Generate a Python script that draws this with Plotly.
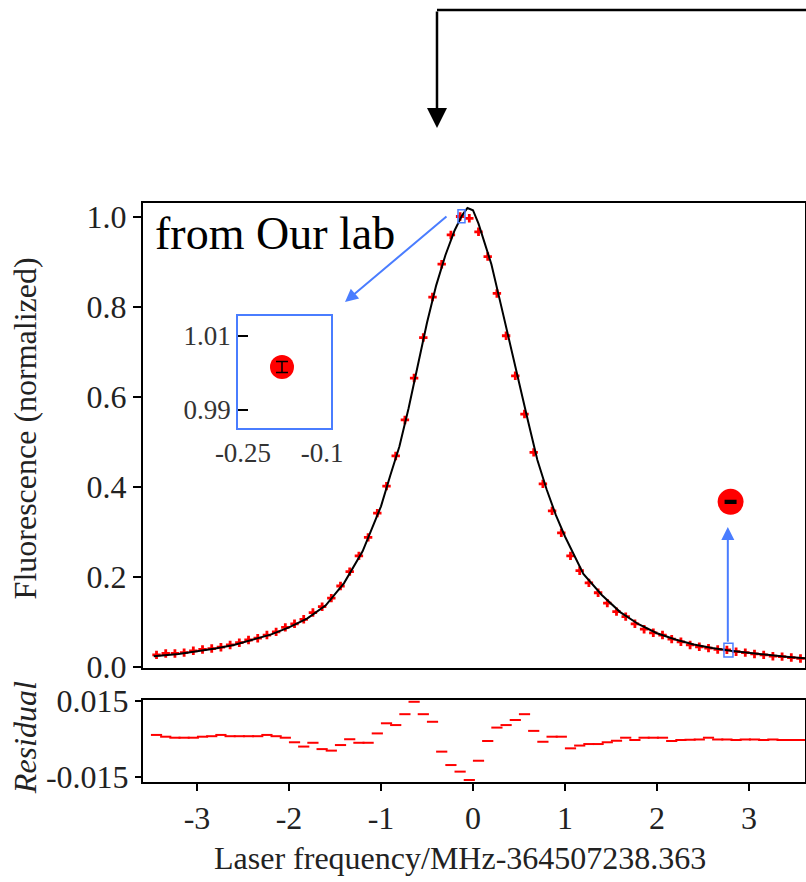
import plotly.graph_objects as go

# ---------------- data ----------------
freq = [-3.44, -3.34, -3.24, -3.14, -3.04, -2.94, -2.84, -2.74, -2.64, -2.54,
        -2.44, -2.34, -2.24, -2.14, -2.04, -1.94, -1.84, -1.74, -1.64, -1.54,
        -1.44, -1.34, -1.24, -1.14, -1.04, -0.94, -0.84, -0.74, -0.64, -0.54,
        -0.44, -0.34, -0.24, -0.14, -0.04, 0.06, 0.16, 0.26, 0.36, 0.46,
        0.56, 0.66, 0.76, 0.86, 0.96, 1.06, 1.16, 1.26, 1.36, 1.46,
        1.56, 1.66, 1.76, 1.86, 1.96, 2.06, 2.16, 2.26, 2.36, 2.46,
        2.56, 2.66, 2.76, 2.86, 2.96, 3.06, 3.16, 3.26, 3.36, 3.46, 3.56]

fluorescence = [0.027, 0.030, 0.030, 0.032, 0.036, 0.039, 0.041, 0.044, 0.049, 0.054,
                0.060, 0.064, 0.071, 0.078, 0.088, 0.096, 0.106, 0.121, 0.134, 0.153,
                0.180, 0.212, 0.247, 0.288, 0.342, 0.402, 0.469, 0.549, 0.642, 0.732,
                0.822, 0.895, 0.960, 1.001, 0.997, 0.967, 0.912, 0.830, 0.736, 0.647,
                0.562, 0.477, 0.407, 0.347, 0.298, 0.247, 0.214, 0.187, 0.165, 0.142,
                0.123, 0.112, 0.096, 0.084, 0.076, 0.071, 0.062, 0.056, 0.049, 0.045,
                0.042, 0.039, 0.038, 0.034, 0.032, 0.029, 0.027, 0.024, 0.023, 0.021, 0.019]

residual = [0.0016, 0.0009, 0.0005, 0.0005, 0.0005, 0.0009, 0.0011, 0.0016, 0.0011, 0.0011,
            0.0011, 0.0011, 0.0016, 0.0011, 0.0005, -0.0013, -0.0030, -0.0015, -0.0040, -0.0046,
            -0.0024, -0.0001, -0.0015, -0.0015, 0.0022, 0.0062, 0.0055, 0.0098, 0.0147, 0.0098,
            0.0068, -0.0050, -0.0103, -0.0129, -0.0162, -0.0086, -0.0008, 0.0045, 0.0055, 0.0075,
            0.0098, 0.0032, -0.0011, 0.0009, 0.0009, -0.0037, -0.0026, -0.0020, -0.0020, -0.0013,
            -0.0007, 0.0005, -0.0004, 0.0005, 0.0005, 0.0005, -0.0008, -0.0004, -0.0003, -0.0002,
            0.0005, -0.0002, -0.0002, -0.0004, -0.0002, -0.0002, -0.0004, -0.0002, -0.0004, -0.0004, -0.0004]

fit_freq = [-3.47, -3.2, -3.0, -2.8, -2.6, -2.4, -2.2, -2.0, -1.8, -1.6,
            -1.4, -1.2, -1.0, -0.9, -0.8, -0.7, -0.6, -0.5, -0.4, -0.3,
            -0.2, -0.12, -0.06, 0.0, 0.06, 0.12, 0.2, 0.3, 0.4, 0.5,
            0.6, 0.7, 0.8, 0.9, 1.0, 1.2, 1.4, 1.6, 1.8, 2.0,
            2.2, 2.4, 2.6, 2.8, 3.0, 3.2, 3.4, 3.62]
fit_fluorescence = [0.024, 0.029, 0.035, 0.041, 0.049, 0.060, 0.072, 0.088, 0.108, 0.137,
                    0.187, 0.257, 0.357, 0.425, 0.490, 0.575, 0.670, 0.765, 0.848, 0.915,
                    0.970, 1.003, 1.020, 1.015, 0.985, 0.945, 0.895, 0.808, 0.718, 0.635,
                    0.545, 0.460, 0.395, 0.338, 0.290, 0.207, 0.160, 0.122, 0.095, 0.075,
                    0.061, 0.050, 0.042, 0.036, 0.031, 0.027, 0.023, 0.019]

inset_x = [-0.176]
inset_y = [1.0016]
inset_err = [0.0015]

magnified_x = [2.80]
magnified_y = [0.367]
magnified_err = [0.0008]

x_tick_vals = [-3, -2, -1, 0, 1, 2, 3]
x_tick_text = ["-3", "-2", "-1", "0", "1", "2", "3"]
y_tick_vals = [0.0, 0.2, 0.4, 0.6, 0.8, 1.0]
y_tick_text = ["0.0", "0.2", "0.4", "0.6", "0.8", "1.0"]
res_tick_vals = [-0.015, 0.015]
res_tick_text = ["-0.015", "0.015"]
inset_x_ticks = [-0.25, -0.1]
inset_x_text = ["-0.25", "-0.1"]
inset_y_ticks = [0.99, 1.01]
inset_y_text = ["0.99", "1.01"]

# ---------------- figure ----------------
RED = "#ff0000"
BLUE = "#4a7dff"
FONT = "Liberation Serif"
TXT = "#222222"

fig = go.Figure()

fig.add_trace(go.Scatter(x=freq, y=fluorescence, mode="markers",
                         marker=dict(symbol="cross", size=7, color=RED),
                         xaxis="x", yaxis="y"))
fig.add_trace(go.Scatter(x=fit_freq, y=fit_fluorescence, mode="lines",
                         line=dict(color="black", width=2),
                         xaxis="x", yaxis="y"))
fig.add_trace(go.Scatter(x=magnified_x, y=magnified_y, mode="markers",
                         marker=dict(size=26, color=RED),
                         xaxis="x", yaxis="y"))
fig.add_trace(go.Scatter(x=magnified_x, y=magnified_y, mode="markers",
                         marker=dict(size=2, color="rgba(0,0,0,0)"),
                         error_y=dict(type="data", array=magnified_err, width=6,
                                      thickness=3.5, color="black"),
                         xaxis="x", yaxis="y"))
fig.add_trace(go.Scatter(x=freq, y=residual, mode="markers",
                         marker=dict(symbol="line-ew", size=8,
                                     line=dict(width=2, color=RED)),
                         xaxis="x2", yaxis="y2"))
fig.add_trace(go.Scatter(x=inset_x, y=inset_y, mode="markers",
                         marker=dict(size=24, color=RED),
                         xaxis="x3", yaxis="y3"))
fig.add_trace(go.Scatter(x=inset_x, y=inset_y, mode="markers",
                         marker=dict(size=2, color="rgba(0,0,0,0)"),
                         error_y=dict(type="data", array=inset_err, width=6,
                                      thickness=1.5, color="black"),
                         xaxis="x3", yaxis="y3"))

X_RANGE = [-3.587, 3.609]

fig.update_layout(
    template="none",
    width=806, height=882, autosize=False,
    margin=dict(l=143, r=1, t=203, b=100, pad=0, autoexpand=False),
    plot_bgcolor="white", paper_bgcolor="white",
    showlegend=False,
    font=dict(family=FONT, size=32, color=TXT),
    xaxis=dict(domain=[0, 1], range=X_RANGE, anchor="y", automargin=False,
               showticklabels=False, ticks="", showgrid=False, zeroline=False,
               showline=True, linecolor="black", linewidth=2, mirror=True),
    yaxis=dict(domain=[0.1969, 1], range=[-0.0022, 1.031], anchor="x", automargin=False,
               tickvals=y_tick_vals, ticktext=y_tick_text,
               ticks="outside", ticklen=8, tickwidth=2, tickcolor="black",
               showgrid=False, zeroline=False,
               showline=True, linecolor="black", linewidth=2, mirror=True),
    xaxis2=dict(domain=[0, 1], range=X_RANGE, anchor="y2", automargin=False,
                tickvals=x_tick_vals, ticktext=x_tick_text,
                ticks="outside", ticklen=7, tickwidth=2, tickcolor="black",
                showgrid=False, zeroline=False,
                showline=True, linecolor="black", linewidth=2, mirror=True),
    yaxis2=dict(domain=[0, 0.1416], range=[-0.0170, 0.0154], anchor="x2", automargin=False,
                tickvals=res_tick_vals, ticktext=res_tick_text,
                ticks="outside", ticklen=6, tickwidth=2, tickcolor="black",
                showgrid=False, zeroline=False,
                showline=True, linecolor="black", linewidth=2, mirror=True),
    xaxis3=dict(domain=[0.1435, 0.284], range=[-0.2595, -0.083], anchor="y3", automargin=False,
                tickvals=inset_x_ticks, ticktext=inset_x_text, ticks="",
                tickfont=dict(size=27, color="#333333"),
                showgrid=False, zeroline=False,
                showline=True, linecolor=BLUE, linewidth=1.5, mirror=True),
    yaxis3=dict(domain=[0.6114, 0.8048], range=[0.9851, 1.0154], anchor="x3", automargin=False,
                tickvals=inset_y_ticks, ticktext=inset_y_text,
                ticks="inside", ticklen=10, tickwidth=1.5, tickcolor="black",
                tickfont=dict(size=27, color="#333333"),
                showgrid=False, zeroline=False,
                showline=True, linecolor=BLUE, linewidth=1.5, mirror=True),
)

# zoom boxes
fig.add_shape(type="rect", xref="x", yref="y", x0=-0.163, x1=-0.087, y0=0.987, y1=1.016,
              line=dict(color=BLUE, width=1.5))
fig.add_shape(type="rect", xref="x", yref="y", x0=2.728, x1=2.826, y0=0.022, y1=0.053,
              line=dict(color=BLUE, width=1.5))
# top connector line
fig.add_shape(type="line", xref="paper", yref="paper", x0=0.4441, x1=1.01, y0=1.3333, y1=1.3333,
              line=dict(color="black", width=2.5))

# arrows
fig.add_annotation(x=-1.391, y=0.811, ax=-0.272, ay=1.004, xref="x", yref="y",
                   axref="x", ayref="y", text="", showarrow=True,
                   arrowcolor=BLUE, arrowwidth=2, arrowhead=2, arrowsize=1.3)
fig.add_annotation(x=2.77, y=0.311, ax=2.77, ay=0.053, xref="x", yref="y",
                   axref="x", ayref="y", text="", showarrow=True,
                   arrowcolor=BLUE, arrowwidth=2, arrowhead=2, arrowsize=1.3)
fig.add_annotation(x=0.4441, y=1.1295, xref="paper", yref="paper", ax=0, ay=-118,
                   text="", showarrow=True, arrowcolor="black", arrowwidth=2.5,
                   arrowhead=2, arrowsize=1.6)

# texts
fig.add_annotation(x=0.0151, y=0.948, xref="paper", yref="paper", xanchor="left",
                   yanchor="middle", text="from Our lab", showarrow=False,
                   font=dict(family=FONT, size=46, color="black"))
fig.add_annotation(x=-0.178, y=0.611, xref="paper", yref="paper", textangle=-90,
                   xanchor="center", yanchor="middle",
                   text="Fluorescence (normalized)", showarrow=False,
                   font=dict(family=FONT, size=32, color=TXT))
fig.add_annotation(x=-0.178, y=0.076, xref="paper", yref="paper", textangle=-90,
                   xanchor="center", yanchor="middle",
                   text="<i>Residual</i>", showarrow=False,
                   font=dict(family=FONT, size=32, color=TXT))
fig.add_annotation(x=0.479, y=-0.131, xref="paper", yref="paper",
                   xanchor="center", yanchor="middle",
                   text="Laser frequency/MHz-364507238.363", showarrow=False,
                   font=dict(family=FONT, size=32, color=TXT))

fig.write_html("out.html",
               config={"displayModeBar": False, "responsive": False},
               post_script="document.body.style.margin='0px';document.body.style.overflow='hidden';")
